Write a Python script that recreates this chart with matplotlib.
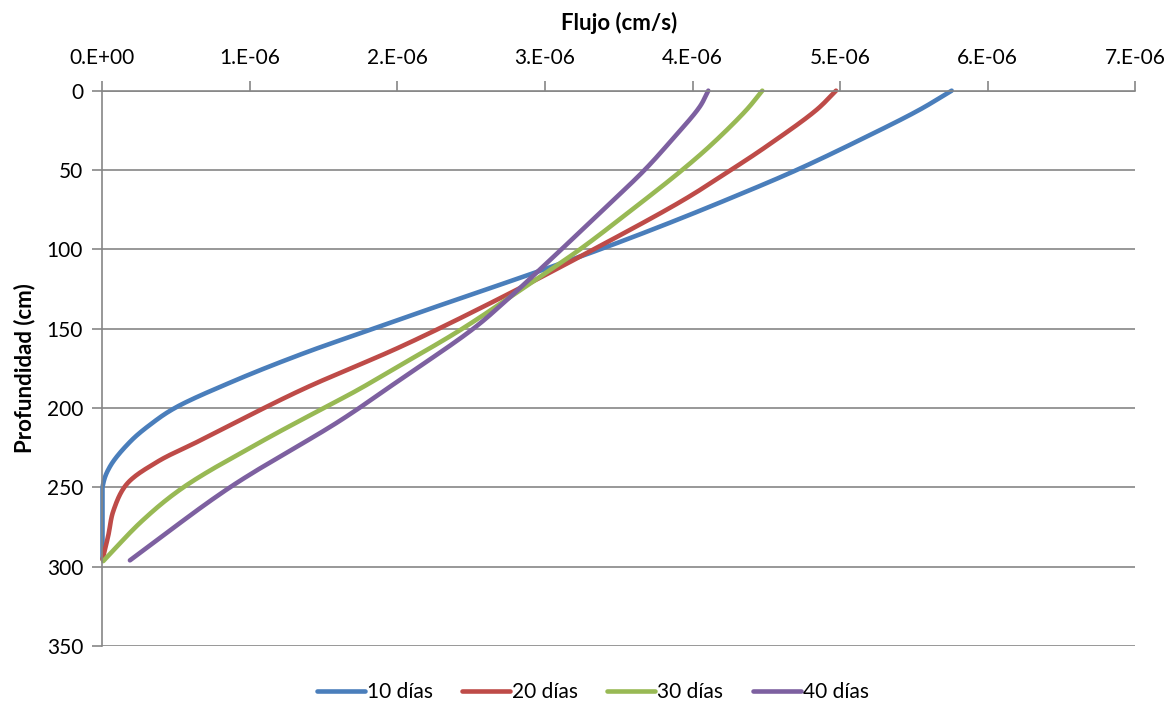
import numpy as np
import matplotlib
matplotlib.use("Agg")
import matplotlib.pyplot as plt
from matplotlib.ticker import FuncFormatter, MultipleLocator

plt.rcParams['font.family'] = ['Lato', 'DejaVu Sans']

# Depth (cm) and flux (x1e-6 cm/s)
depth_10 = [0, 12, 29, 50, 67, 84, 100, 117, 132, 150, 166, 183, 200, 210, 221, 237, 250, 295]
flux_10 = [5.757, 5.54, 5.18, 4.706, 4.277, 3.825, 3.373, 2.86, 2.39, 1.836, 1.35, 0.89, 0.49, 0.33, 0.19, 0.05, 0.0, 0.0]

depth_20 = [0, 12, 35, 50, 69, 100, 132, 161, 189, 221, 234, 248, 265, 280, 295.5]
flux_20 = [4.973, 4.842, 4.503, 4.26, 3.937, 3.33, 2.67, 2.03, 1.339, 0.65, 0.37, 0.164, 0.073, 0.04, 0.0]

depth_30 = [0, 12, 33, 50, 75, 100, 119.5, 150, 173, 189, 200, 221, 250, 271, 296.5]
flux_30 = [4.473, 4.367, 4.14, 3.93, 3.59, 3.237, 2.93, 2.44, 2.02, 1.723, 1.50, 1.08, 0.548, 0.27, 0.005]

depth_40 = [0, 10, 31, 50, 75, 101, 132, 150, 182, 208, 250, 296]
flux_40 = [4.107, 4.05, 3.86, 3.675, 3.395, 3.10, 2.74, 2.514, 2.02, 1.61, 0.864, 0.186]

series_labels = ['10 días', '20 días', '30 días', '40 días']
series_colors = ['#4A7EBB', '#BE4B48', '#98B954', '#7D60A0']

# approximate pixel scale of the axes (used only for curve smoothing, like Excel's smoothed lines)
SX, SY = 147.5, 1.582


def smooth(xs, ys, n=24):
    P = np.column_stack([np.asarray(xs, float) * SX, np.asarray(ys, float) * SY])
    P = np.vstack([2 * P[0] - P[1], P, 2 * P[-1] - P[-2]])
    out = []
    for i in range(1, len(P) - 2):
        p0, p1, p2, p3 = P[i - 1], P[i], P[i + 1], P[i + 2]
        t0 = 0.0
        t1 = t0 + max(np.linalg.norm(p1 - p0), 1e-9) ** 0.5
        t2 = t1 + max(np.linalg.norm(p2 - p1), 1e-9) ** 0.5
        t3 = t2 + max(np.linalg.norm(p3 - p2), 1e-9) ** 0.5
        t = np.linspace(t1, t2, n)[:, None]
        A1 = (t1 - t) / (t1 - t0) * p0 + (t - t0) / (t1 - t0) * p1
        A2 = (t2 - t) / (t2 - t1) * p1 + (t - t1) / (t2 - t1) * p2
        A3 = (t3 - t) / (t3 - t2) * p2 + (t - t2) / (t3 - t2) * p3
        B1 = (t2 - t) / (t2 - t0) * A1 + (t - t0) / (t2 - t0) * A2
        B2 = (t3 - t) / (t3 - t1) * A2 + (t - t1) / (t3 - t1) * A3
        C = (t2 - t) / (t2 - t1) * B1 + (t - t1) / (t2 - t1) * B2
        out.append(C if i == 1 else C[1:])
    C = np.vstack(out)
    return np.maximum(C[:, 0] / SX, 0.0), C[:, 1] / SY


fig = plt.figure(figsize=(11.74, 7.10), dpi=100)
ax = fig.add_axes([0.0873, 0.0901, 0.9668 - 0.0873, 0.8723 - 0.0901])

data = [(flux_10, depth_10), (flux_20, depth_20), (flux_30, depth_30), (flux_40, depth_40)]
for (fx, dp), lab, col in zip(data, series_labels, series_colors):
    sx, sy = smooth(fx, dp)
    ax.plot(sx * 1e-6, sy, color=col, lw=3.3, label=lab,
            solid_capstyle='round', solid_joinstyle='round', clip_on=False)

ax.set_xlim(0, 7e-6)
ax.set_ylim(350, 0)
ax.xaxis.set_major_locator(MultipleLocator(1e-6))
ax.yaxis.set_major_locator(MultipleLocator(50))


def fmt(v, pos):
    if abs(v) < 1e-12:
        return '0.E+00'
    return '%d.E-06' % round(v / 1e-6)


ax.xaxis.set_major_formatter(FuncFormatter(fmt))
ax.xaxis.tick_top()
ax.xaxis.set_label_position('top')

grid_col = '#868686'
ax.grid(axis='y', color=grid_col, lw=1.2)
ax.set_axisbelow(True)
for s in ['right', 'bottom']:
    ax.spines[s].set_visible(False)
for s in ['left', 'top']:
    ax.spines[s].set_color(grid_col)
    ax.spines[s].set_linewidth(1.2)

ax.tick_params(axis='both', direction='out', length=7, width=1.2, color=grid_col,
               labelsize=15, labelcolor='black')
ax.tick_params(axis='x', pad=9)
ax.tick_params(axis='y', pad=7)

ax.set_xlabel('Flujo (cm/s)', fontsize=16, fontweight='bold', labelpad=13)
ax.set_ylabel('Profundidad (cm)', fontsize=16, fontweight='bold', labelpad=8)

fig.legend(loc='center', bbox_to_anchor=(0.505, 0.025), ncol=4, frameon=False,
           fontsize=15, handlelength=2.3, handletextpad=0.1, columnspacing=1.4)

fig.savefig('out.png', dpi=100)
